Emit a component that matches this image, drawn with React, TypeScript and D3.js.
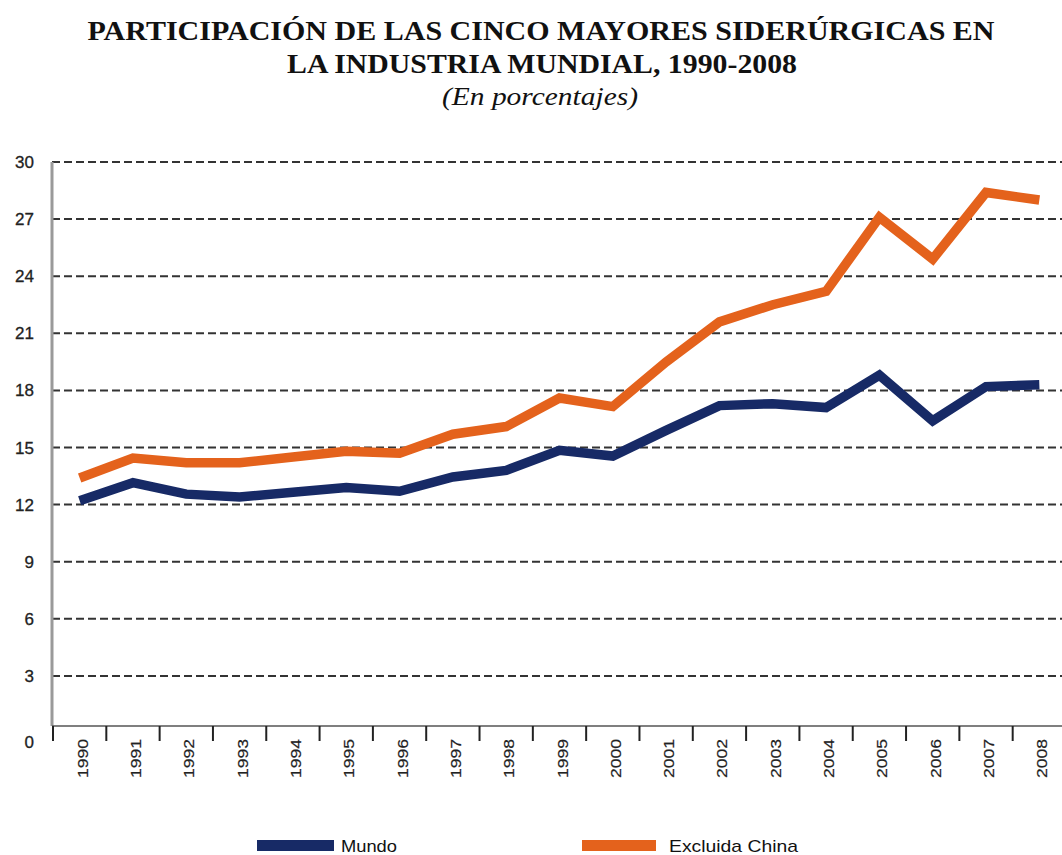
import React from "react";
import * as d3 from "d3";

const years = ["1990","1991","1992","1993","1994","1995","1996","1997","1998","1999","2000","2001","2002","2003","2004","2005","2006","2007","2008"];
const mundo = [12.2,13.15,12.55,12.4,12.65,12.9,12.7,13.45,13.8,14.85,14.55,15.9,17.2,17.3,17.1,18.8,16.4,18.2,18.3];
const excluidaChina = [13.4,14.45,14.2,14.2,14.5,14.8,14.7,15.7,16.1,17.6,17.15,19.5,21.6,22.5,23.2,27.1,24.9,28.4,28.0];
const yTicks = [0,3,6,9,12,15,18,21,24,27,30];
const seriesNames = ["Mundo","Excluida China"];
const seriesColors = ["#172a66","#e4621c"];

export default function App() {
  const W = 1062, H = 855;
  const x = d3.scaleBand<string>().domain(years).range([53, 1066]).paddingInner(0).paddingOuter(0);
  const y = d3.scaleLinear().domain([0, 30]).range([733, 162]);
  const axisY = 726;
  const line = d3.line<number>().x((_, i) => (x(years[i]) as number) + x.bandwidth() / 2).y(d => y(d));
  const series = [mundo, excluidaChina];
  return (
    <svg width={W} height={H} style={{ position: "absolute", left: 0, top: 0, background: "#fff" }}>
      <g fontFamily="'Liberation Serif', 'Times New Roman', serif" fill="#111" textAnchor="middle">
        <text x={541} y={40} fontSize={27} fontWeight="bold" textLength={907} lengthAdjust="spacingAndGlyphs">PARTICIPACIÓN DE LAS CINCO MAYORES SIDERÚRGICAS EN</text>
        <text x={542} y={73} fontSize={27} fontWeight="bold" textLength={510} lengthAdjust="spacingAndGlyphs">LA INDUSTRIA MUNDIAL, 1990-2008</text>
        <text x={540} y={105} fontSize={25} fontStyle="italic" textLength={196} lengthAdjust="spacingAndGlyphs">(En porcentajes)</text>
      </g>
      {yTicks.filter(t => t > 0).map(t => (
        <line key={"g" + t} x1={52} x2={1062} y1={y(t)} y2={y(t)} stroke="#333" strokeWidth={2} strokeDasharray="8,4" />
      ))}
      <g fontFamily="'Liberation Sans', Arial, sans-serif" fontSize={17} fill="#222" textAnchor="end" stroke="#222" strokeWidth={0.3}>
        {yTicks.map(t => (
          <text key={"t" + t} x={34} y={t === 0 ? 748 : y(t) + 6}>{t}</text>
        ))}
      </g>
      <line x1={52} x2={52} y1={162} y2={axisY} stroke="#9a9a9a" strokeWidth={3} />
      <line x1={52} x2={1062} y1={axisY} y2={axisY} stroke="#555" strokeWidth={1.5} />
      {years.map(yr => (
        <line key={"k" + yr} x1={x(yr) as number} x2={x(yr) as number} y1={axisY} y2={741} stroke="#222" strokeWidth={2} />
      ))}
      <g fontFamily="'Liberation Sans', Arial, sans-serif" fontSize={15} fill="#222" textAnchor="end" stroke="#222" strokeWidth={0.2}>
        {years.map(yr => {
          const cx = (x(yr) as number) + x.bandwidth() / 2 + 3;
          return (
            <text key={"l" + yr} transform={`translate(${cx + 5},739) rotate(-90)`} textLength={39} lengthAdjust="spacingAndGlyphs">{yr}</text>
          );
        })}
      </g>
      {series.map((s, i) => (
        <path key={"s" + i} d={line(s) as string} fill="none" stroke={seriesColors[i]} strokeWidth={9.5} strokeLinejoin="miter" />
      ))}
      <g fontFamily="'Liberation Sans', Arial, sans-serif" fontSize={17} fill="#111">
        <rect x={257} y={840} width={77} height={11} fill={seriesColors[0]} />
        <text x={341} y={852} textLength={56} lengthAdjust="spacingAndGlyphs">{seriesNames[0]}</text>
        <rect x={582} y={840} width={74} height={11} fill={seriesColors[1]} />
        <text x={669} y={852} textLength={129} lengthAdjust="spacingAndGlyphs">{seriesNames[1]}</text>
      </g>
    </svg>
  );
}
